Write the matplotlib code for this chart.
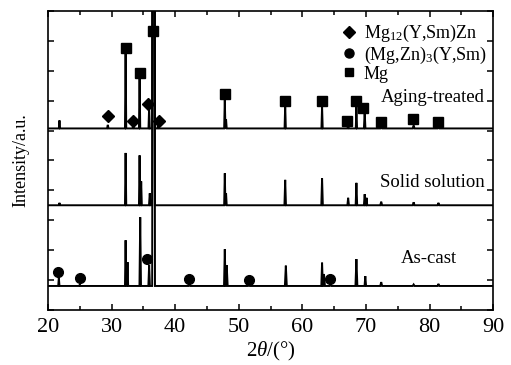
import matplotlib
matplotlib.use("Agg")
import matplotlib.pyplot as plt
from matplotlib.lines import Line2D
from matplotlib.ticker import MultipleLocator

plt.rcParams['font.family'] = ['Liberation Serif', 'DejaVu Serif']
plt.rcParams['mathtext.fontset'] = 'custom'
plt.rcParams['mathtext.rm'] = 'Liberation Serif'
plt.rcParams['mathtext.it'] = 'Liberation Serif:italic'

# ---------------- data ----------------
# baselines (offset intensity, a.u.)
base_aging = 6.07
base_solid = 3.5
base_cast = 0.8

# Aging-treated peaks: position (2theta), height above baseline, half-width
aging_pos = [21.8, 29.4, 32.2, 33.4, 34.4, 35.9, 36.6, 37.3, 47.8, 48.0, 57.3, 63.1, 67.2, 68.5, 69.8, 72.4, 77.5, 81.4]
aging_h   = [0.27, 0.12, 2.55, 0.10, 1.75, 0.72, 40.0, 0.10, 1.00, 0.30, 0.78, 0.73, 0.10, 0.75, 0.55, 0.06, 0.10, 0.06]
aging_w   = [0.10, 0.12, 0.10, 0.12, 0.10, 0.10, 0.22, 0.12, 0.10, 0.10, 0.10, 0.10, 0.12, 0.10, 0.12, 0.15, 0.15, 0.15]

# Solid-solution peaks
solid_pos = [21.8, 32.2, 34.4, 34.65, 36.0, 36.6, 47.8, 48.0, 57.3, 63.1, 67.2, 68.5, 69.8, 70.1, 72.4, 77.5, 81.4]
solid_h   = [0.08, 1.75, 1.67, 0.80, 0.40, 40.0, 1.07, 0.40, 0.85, 0.90, 0.25, 0.75, 0.37, 0.25, 0.12, 0.10, 0.08]
solid_w   = [0.12, 0.10, 0.10, 0.10, 0.12, 0.22, 0.10, 0.10, 0.12, 0.12, 0.12, 0.12, 0.12, 0.10, 0.15, 0.15, 0.15]

# As-cast peaks
cast_pos = [21.7, 25.0, 32.2, 32.5, 34.5, 35.9, 36.6, 42.2, 47.8, 48.1, 51.6, 57.4, 63.1, 63.4, 64.4, 68.5, 69.9, 72.4, 77.5, 81.4]
cast_h   = [0.28, 0.05, 1.53, 0.80, 2.30, 0.70, 40.0, 0.10, 1.23, 0.70, 0.07, 0.68, 0.78, 0.40, 0.06, 0.90, 0.33, 0.13, 0.05, 0.07]
cast_w   = [0.10, 0.12, 0.10, 0.10, 0.12, 0.12, 0.22, 0.15, 0.12, 0.15, 0.15, 0.15, 0.12, 0.15, 0.15, 0.15, 0.12, 0.15, 0.15, 0.15]

# phase markers (position, level)
mg_x = [32.2, 34.4, 36.5, 47.8, 57.3, 63.1, 67.0, 68.4, 69.6, 72.4, 77.4, 81.4]
mg_y = [8.77, 7.93, 9.33, 7.23, 7.00, 7.00, 6.33, 7.00, 6.77, 6.27, 6.40, 6.27]
mg12_x = [29.4, 33.4, 35.7, 37.5]
mg12_y = [6.50, 6.33, 6.90, 6.33]
mg3_x = [21.6, 25.0, 35.6, 42.2, 51.6, 64.4]
mg3_y = [1.27, 1.07, 1.70, 1.03, 1.00, 1.03]

labels = ["Aging-treated", "Solid solution", "As-cast"]
legend_labels = [r"Mg$_{12}$(Y,Sm)Zn", r"(Mg,Zn)$_3$(Y,Sm)", "Mg"]
xticks = [20, 30, 40, 50, 60, 70, 80, 90]


def trace(base, pos, h, w):
    xs, ys = [20.0], [base]
    for p, hh, ww in sorted(zip(pos, h, w)):
        xs += [p - ww, p, p + ww]
        ys += [base, base + hh, base]
    xs.append(90.0)
    ys.append(base)
    return xs, ys


fig = plt.figure(figsize=(5.11, 3.65), dpi=100)
ax = fig.add_axes([0.094, 0.151, 0.871, 0.819])

lw = 1.4
for base, pos, h, w in [(base_cast, cast_pos, cast_h, cast_w),
                        (base_solid, solid_pos, solid_h, solid_w),
                        (base_aging, aging_pos, aging_h, aging_w)]:
    xs, ys = trace(base, pos, h, w)
    ax.plot(xs, ys, color='black', lw=lw, solid_joinstyle='miter')

ax.plot(mg_x, mg_y, 's', color='black', ms=6.5, ls='none')
ax.plot(mg12_x, mg12_y, 'D', color='black', ms=6, ls='none')
ax.plot(mg3_x, mg3_y, 'o', color='black', ms=7, ls='none')

ax.set_xlim(20, 90)
ax.set_ylim(0, 10)
ax.set_xticks(xticks)
ax.xaxis.set_minor_locator(MultipleLocator(5))
ax.yaxis.set_major_locator(MultipleLocator(1))
ax.set_yticklabels([])
ax.tick_params(axis='both', which='both', direction='in', top=True, right=True,
               width=1.1, labelsize=16)
ax.tick_params(axis='both', which='major', length=4)
ax.tick_params(axis='both', which='minor', length=3)
ax.tick_params(axis='x', pad=6)
for s in ax.spines.values():
    s.set_linewidth(1.2)

ax.set_xlabel(r"2$\it{\theta}$/(°)", fontsize=15, labelpad=2)
ax.set_ylabel("Intensity/a.u.", fontsize=13, labelpad=10)

ax.text(0.982, 0.711, labels[0], transform=ax.transAxes, ha='right', va='center', fontsize=13.5)
ax.text(0.982, 0.425, labels[1], transform=ax.transAxes, ha='right', va='center', fontsize=13.5)
ax.text(0.918, 0.171, labels[2], transform=ax.transAxes, ha='right', va='center', fontsize=13.5)

handles = [Line2D([], [], marker='D', color='black', ls='none', ms=6),
           Line2D([], [], marker='o', color='black', ls='none', ms=6.5),
           Line2D([], [], marker='s', color='black', ls='none', ms=6)]
ax.legend(handles, legend_labels, loc='upper right', bbox_to_anchor=(1.01, 0.995),
          frameon=False, fontsize=13, handlelength=0.8, handletextpad=0.4,
          labelspacing=0.0, borderaxespad=0.2)

fig.savefig("out.png", dpi=100)
